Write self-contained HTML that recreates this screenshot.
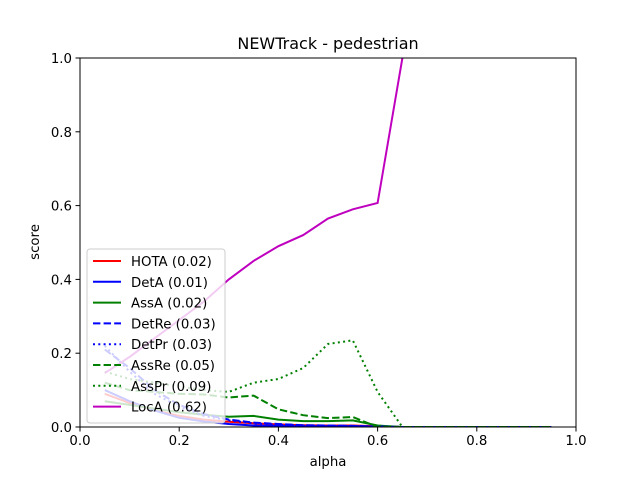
<!DOCTYPE html>
<html><head><meta charset="utf-8"><style>
body{margin:0;background:#fff;font-family:"Liberation Sans","DejaVu Sans",sans-serif}
svg text{font-family:"DejaVu Sans","Liberation Sans",sans-serif}
</style></head><body>
<svg id="c" width="640" height="480" xmlns="http://www.w3.org/2000/svg"></svg>
<script>
const alphas=[0.05,0.1,0.15,0.2,0.25,0.3,0.35,0.4,0.45,0.5,0.55,0.6,0.65,0.7,0.75,0.8,0.85,0.9,0.95];
const hota=[0.09,0.065,0.045,0.03,0.02,0.014,0.01,0.007,0.005,0.004,0.004,0.002,0,0,0,0,0,0,0];
const deta=[0.1,0.07,0.045,0.025,0.015,0.008,0.004,0.003,0.002,0.002,0.002,0.001,0,0,0,0,0,0,0];
const assa=[0.07,0.06,0.05,0.04,0.033,0.028,0.03,0.02,0.016,0.016,0.018,0.004,0,0,0,0,0,0,0];
const detre=[0.21,0.16,0.1,0.06,0.035,0.02,0.012,0.008,0.005,0.004,0.003,0.001,0,0,0,0,0,0,0];
const detpr=[0.22,0.15,0.09,0.055,0.03,0.018,0.01,0.006,0.004,0.003,0.003,0.001,0,0,0,0,0,0,0];
const assre=[0.12,0.1,0.095,0.09,0.088,0.08,0.085,0.048,0.032,0.024,0.027,0.0,0,0,0,0,0,0,0];
const asspr=[0.15,0.13,0.12,0.11,0.1,0.095,0.12,0.13,0.16,0.225,0.235,0.095,0.0,0,0,0,0,0,0];
const loca=[0.146,0.19,0.24,0.29,0.34,0.4,0.45,0.49,0.52,0.565,0.59,0.607,1.0,null,null,null,null,null,null];
const xticks=[0,0.2,0.4,0.6,0.8,1.0];
const yticks=[0,0.2,0.4,0.6,0.8,1.0];
const series=[
 {name:'HOTA (0.02)',d:hota,c:'#ff0000',dash:''},
 {name:'DetA (0.01)',d:deta,c:'#0000ff',dash:''},
 {name:'AssA (0.02)',d:assa,c:'#008000',dash:''},
 {name:'DetRe (0.03)',d:detre,c:'#0000ff',dash:'7.4,3.2'},
 {name:'DetPr (0.03)',d:detpr,c:'#0000ff',dash:'2,3.3'},
 {name:'AssRe (0.05)',d:assre,c:'#008000',dash:'7.4,3.2'},
 {name:'AssPr (0.09)',d:asspr,c:'#008000',dash:'2,3.3'},
 {name:'LocA (0.62)',d:loca,c:'#bf00bf',dash:''}
];
const L=80,R=576,T=58,B=427;
const X=v=>L+(R-L)*v, Y=v=>B-(B-T)*v;
const svg=document.getElementById('c');
const NS='http://www.w3.org/2000/svg';
function mk(tag,attrs,parent){const e=document.createElementNS(NS,tag);for(const k in attrs)e.setAttribute(k,attrs[k]);(parent||svg).appendChild(e);return e;}
const clip=mk('clipPath',{id:'cl'});mk('rect',{x:L,y:T,width:R-L,height:B-T},clip);
const g=mk('g',{'clip-path':'url(#cl)'});
series.forEach((s,i)=>{
 let d='',pen=false;
 s.d.forEach((v,j)=>{if(v===null){pen=false;return;}d+=(pen?'L':'M')+X(alphas[j]).toFixed(1)+','+Y(v).toFixed(1);pen=true;});
 const p=mk('path',{d:d,fill:'none',stroke:s.c,'stroke-width':2,'stroke-dasharray':s.dash},g);
 
 
});
const frame=mk('rect',{x:L,y:T,width:R-L,height:B-T,fill:'none',stroke:'#000','stroke-width':1});


xticks.forEach(v=>{
 mk('line',{x1:X(v),x2:X(v),y1:B,y2:B+4.5,stroke:'#000','stroke-width':1});
 const t=mk('text',{x:X(v),y:B+18,'font-size':13.3,'text-anchor':'middle'});t.textContent=v.toFixed(1);
 
 
});
yticks.forEach(v=>{
 mk('line',{x1:L-4.5,x2:L,y1:Y(v),y2:Y(v),stroke:'#000','stroke-width':1});
 const t=mk('text',{x:L-8,y:Y(v)+5,'font-size':13.3,'text-anchor':'end'});t.textContent=v.toFixed(1);
 
 
});
const tt=mk('text',{x:328,y:49,'font-size':16,'text-anchor':'middle'});tt.textContent='NEWTrack - pedestrian';


const xl=mk('text',{x:328,y:466,'font-size':13.3,'text-anchor':'middle'});xl.textContent='alpha';


const yl=mk('text',{x:0,y:0,'font-size':13.3,'text-anchor':'middle',transform:'translate(39,242) rotate(-90)'});yl.textContent='score';


const lg=mk('g',{});


mk('rect',{x:87,y:249,width:138,height:174,rx:3,fill:'#fff','fill-opacity':0.8,stroke:'#ccc','stroke-width':1},lg);
series.forEach((s,i)=>{
 const y=261+i*20.8;
 mk('line',{x1:93,x2:121,y1:y,y2:y,stroke:s.c,'stroke-width':2,'stroke-dasharray':s.dash},lg);
 const t=mk('text',{x:131,y:y+5,'font-size':13.3},lg);t.textContent=s.name;
 
 
});
</script>
</body></html>
